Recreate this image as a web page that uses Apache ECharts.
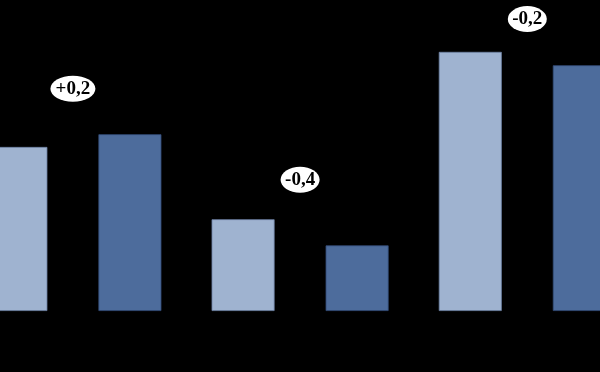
<!DOCTYPE html>
<html>
<head>
<meta charset="utf-8">
<style>
html,body{margin:0;padding:0;background:#000;}
#chart{width:600px;height:372px;}
</style>
<script src="https://cdn.jsdelivr.net/npm/echarts@6/dist/echarts.min.js"></script>
</head>
<body>
<div id="chart"></div>
<script>
const categories = ['A', 'B', 'C'];
const seriesLight = [2.45, 1.37, 3.87];
const seriesDark = [2.64, 0.98, 3.67];
const diffLabels = ['+0,2', '-0,4', '-0,2'];
const diffLabelY = [3.32, 1.96, 4.36];

const chart = echarts.init(document.getElementById('chart'), null, {renderer: 'canvas'});
chart.setOption({
  animation: false,
  backgroundColor: '#000000',
  grid: {left: -40.7, right: -40.9, top: 3, bottom: 61, containLabel: false, outerBoundsMode: 'none'},
  xAxis: {
    type: 'category',
    data: categories,
    boundaryGap: true,
    axisLine: {show: false},
    axisTick: {show: false},
    axisLabel: {show: false},
    splitLine: {show: false}
  },
  yAxis: {
    type: 'value',
    min: 0,
    max: 4.6,
    axisLine: {show: false},
    axisTick: {show: false},
    axisLabel: {show: false},
    splitLine: {show: false}
  },
  series: [
    {
      type: 'bar',
      data: seriesLight,
      barWidth: 63,
      barGap: '81%',
      itemStyle: {color: '#9fb3d0', borderColor: '#6f83a6', borderWidth: 0.8}
    },
    {
      type: 'bar',
      data: seriesDark,
      barWidth: 63,
      barGap: '81%',
      itemStyle: {color: '#4d6c9c', borderColor: '#344d78', borderWidth: 0.8}
    },
    {
      type: 'scatter',
      data: diffLabelY.map((v, i) => [i, v]),
      symbol: 'circle',
      symbolSize: function (val, params) {
        return [diffLabels[params.dataIndex].charAt(0) === '+' ? 45 : 39, 26];
      },
      itemStyle: {color: '#ffffff', opacity: 1},
      z: 5,
      label: {
        show: true,
        position: 'inside',
        formatter: function (p) { return diffLabels[p.dataIndex]; },
        color: '#000000',
        fontFamily: 'Liberation Serif',
        fontSize: 19,
        fontWeight: 'bold'
      }
    }
  ]
});
</script>
</body>
</html>
